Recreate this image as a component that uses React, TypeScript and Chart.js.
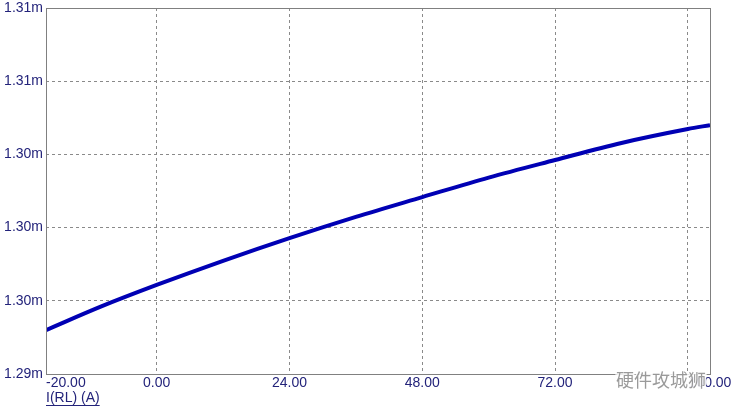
import React, { useEffect, useRef } from "react";
import { Chart, registerables } from "chart.js";

Chart.register(...registerables);

const xValues = [-20, -10, 0, 12, 24, 36, 48, 60, 72, 84, 96, 100];
const currentValues = [1.2958, 1.29677, 1.29765, 1.29864, 1.29957, 1.30044, 1.30125, 1.30205, 1.30277, 1.30347, 1.30404, 1.3042];
const xTickValues = [-20, 0, 24, 48, 72, 96, 100];
const xTickLabels = ["-20.00", "0.00", "24.00", "48.00", "72.00", "", "100.00"];
const yTickValues = [1.294, 1.297, 1.3, 1.303, 1.306, 1.309];
const yTickLabels = ["1.29m", "1.30m", "1.30m", "1.30m", "1.31m", "1.31m"];
const xAxisTitle = "I(RL) (A)";
const watermark = "硬件攻城狮";

const TEXT = "#23237a";
const FONT = "Liberation Sans, Arial, sans-serif";

export default function App() {
  const ref = useRef<HTMLCanvasElement>(null);
  useEffect(() => {
    const canvas = ref.current!;
    const framePlugin = {
      id: "frame",
      afterDraw(chart: any) {
        const { ctx, chartArea: a, scales } = chart;
        ctx.save();
        ctx.strokeStyle = "#808080";
        ctx.lineWidth = 1;
        ctx.strokeRect(Math.round(a.left) + 0.5, Math.round(a.top) + 0.5, Math.round(a.right - a.left), Math.round(a.bottom - a.top));
        ctx.fillStyle = TEXT;
        ctx.font = `14px ${FONT}`;
        ctx.textBaseline = "middle";
        xTickValues.forEach((v, i) => {
          const lbl = xTickLabels[i];
          if (!lbl) return;
          const px = scales.x.getPixelForValue(v);
          ctx.textAlign = i === 0 ? "left" : "center";
          ctx.fillText(lbl, px, a.bottom + 9);
        });
        ctx.textAlign = "left";
        const ty = a.bottom + 24;
        ctx.fillText(xAxisTitle, a.left, ty);
        const w = ctx.measureText(xAxisTitle).width;
        ctx.fillRect(a.left, ty + 7, w, 1);
        // watermark
        ctx.font = `18px "Noto Sans CJK SC", sans-serif`;
        ctx.lineWidth = 3;
        ctx.strokeStyle = "rgba(255,255,255,0.9)";
        ctx.strokeText(watermark, 616, a.bottom + 6);
        ctx.fillStyle = "rgba(120,120,120,0.75)";
        ctx.fillText(watermark, 616, a.bottom + 6);
        ctx.restore();
      },
    };
    const chart = new Chart(canvas, {
      type: "line",
      data: {
        datasets: [
          {
            data: xValues.map((x, i) => ({ x, y: currentValues[i] })),
            borderColor: "#0000b4",
            borderWidth: 4,
            pointRadius: 0,
            cubicInterpolationMode: "monotone",
            fill: false,
          },
        ],
      },
      options: {
        animation: false,
        responsive: false,
        maintainAspectRatio: false,
        layout: { padding: { top: 0, right: 25, left: 0, bottom: 0 } },
        plugins: { legend: { display: false }, tooltip: { enabled: false } },
        scales: {
          x: {
            type: "linear",
            min: -20,
            max: 100,
            afterBuildTicks: (s: any) => {
              s.ticks = xTickValues.map((v) => ({ value: v }));
            },
            afterFit: (s: any) => {
              s.height = 33;
            },
            ticks: { display: false },
            grid: {
              color: (c: any) => (c.tick && (c.tick.value === -20 || c.tick.value === 100) ? "rgba(0,0,0,0)" : "#8a8a8a"),
              lineWidth: 1,
              drawTicks: false,
            },
            border: { display: false, dash: [3, 3] },
          },
          y: {
            min: 1.294,
            max: 1.309,
            afterBuildTicks: (s: any) => {
              s.ticks = yTickValues.map((v) => ({ value: v }));
            },
            afterFit: (s: any) => {
              s.width = 46;
              s.paddingTop = 8;
              s.paddingBottom = 0;
            },
            ticks: {
              color: TEXT,
              font: { family: FONT, size: 14 },
              padding: 3,
              callback: (_v: any, i: number) => yTickLabels[i],
            },
            grid: {
              color: (c: any) => (c.tick && (c.tick.value === 1.294 || c.tick.value === 1.309) ? "rgba(0,0,0,0)" : "#8a8a8a"),
              lineWidth: 1,
              drawTicks: false,
            },
            border: { display: false, dash: [3, 3] },
          },
        },
      },
      plugins: [framePlugin],
    } as any);
    return () => chart.destroy();
  }, []);
  return (
    <div style={{ position: "fixed", left: 0, top: 0, width: 735, height: 407, background: "#fff" }}>
      <canvas ref={ref} width={735} height={407} style={{ width: 735, height: 407 }} />
    </div>
  );
}
